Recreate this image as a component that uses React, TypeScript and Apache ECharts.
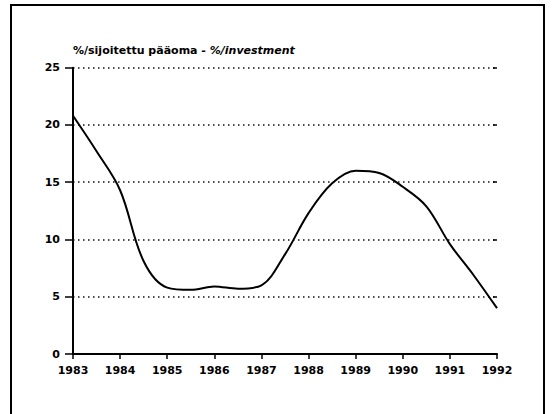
import React, { useEffect, useRef } from "react";
import * as echarts from "echarts";

const titleMain = "%/sijoitettu pääoma - ";
const titleItalic = "%/investment";
const years = [1983, 1983.5, 1984, 1984.5, 1985, 1985.5, 1986, 1986.5, 1987, 1987.5, 1988, 1988.5, 1989, 1989.5, 1990, 1990.5, 1991, 1991.5, 1992];
const values = [20.8, 17.7, 14.3, 8.1, 5.8, 5.6, 5.9, 5.7, 6.0, 8.7, 12.3, 14.9, 16.0, 15.8, 14.6, 12.9, 9.6, 6.9, 4.0];

const FONT = "DejaVu Sans";

export default function App() {
  const ref = useRef<HTMLDivElement>(null);
  useEffect(() => {
    document.body.style.margin = "0";
    const chart = echarts.init(ref.current!, null, { renderer: "svg" });
    const data = years.map((y, i) => [y, values[i]]);
    chart.setOption({
      animation: false,
      backgroundColor: "#fff",
      grid: { left: 73, right: 55, top: 67.7, bottom: 60 },
      xAxis: {
        type: "value",
        min: 1983,
        max: 1992,
        interval: 1,
        axisLine: { show: true, lineStyle: { color: "#000", width: 2 } },
        axisTick: { show: true, length: 5, lineStyle: { color: "#000", width: 1.5 } },
        axisLabel: {
          margin: 11,
          color: "#000",
          fontFamily: FONT,
          fontWeight: "bold",
          fontSize: 11,
          formatter: (v: number) => String(Math.round(v)),
        },
        splitLine: { show: false },
      },
      yAxis: [
        {
          type: "value",
          min: 0,
          max: 25,
          interval: 5,
          axisLine: { show: true, lineStyle: { color: "#000", width: 2 } },
          axisTick: { show: true, length: 8, lineStyle: { color: "#000", width: 1.5 } },
          axisLabel: {
            margin: 13,
            color: "#000",
            fontFamily: FONT,
            fontWeight: "bold",
            fontSize: 11,
          },
          splitLine: {
            show: true,
            lineStyle: { color: "#111", width: 1.5, type: [1.5, 3.5] },
          },
        },
        {
          type: "value",
          min: 0,
          max: 25,
          interval: 5,
          position: "right",
          axisLine: { show: false },
          axisTick: { show: true, inside: true, length: 4, lineStyle: { color: "#000", width: 1.5 } },
          axisLabel: { show: false },
          splitLine: { show: false },
        },
      ],
      series: [
        {
          type: "line",
          data,
          smooth: 0.35,
          showSymbol: false,
          lineStyle: { color: "#000", width: 2 },
        },
      ],
      graphic: [
        {
          type: "rect",
          shape: { x: 11, y: 5, width: 533, height: 430 },
          style: { fill: "none", stroke: "#000", lineWidth: 2 },
          silent: true,
        },
        {
          type: "text",
          x: 73,
          y: 50,
          style: {
            text: "{a|" + titleMain + "}{b|" + titleItalic + "}",
            verticalAlign: "middle",
            rich: {
              a: { fontFamily: FONT, fontWeight: "bold", fontSize: 11, fill: "#000" },
              b: { fontFamily: FONT, fontWeight: "bold", fontStyle: "italic", fontSize: 11, fill: "#000" },
            },
          },
        },
      ],
    });
    return () => chart.dispose();
  }, []);
  return <div ref={ref} style={{ width: 552, height: 414 }} />;
}
